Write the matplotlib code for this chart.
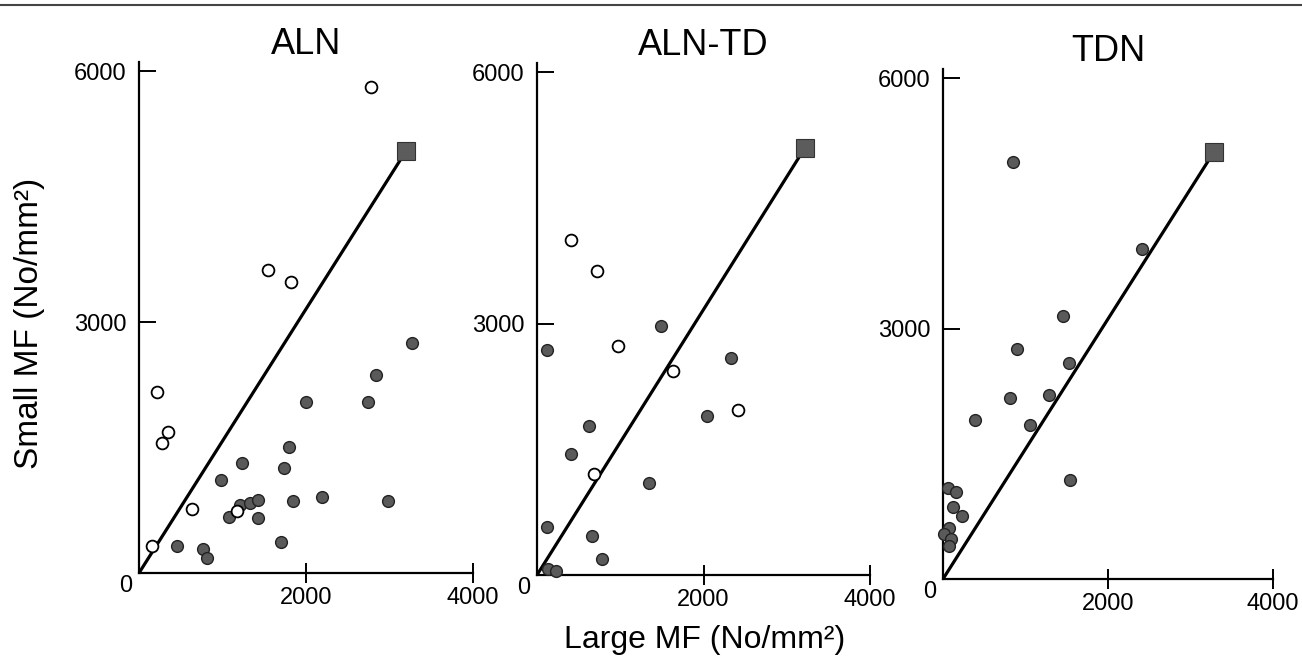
import numpy as np
import matplotlib
matplotlib.use('Agg')
from matplotlib import pyplot as plt
from matplotlib.lines import Line2D

plt.rcParams['font.family'] = ['Liberation Sans', 'DejaVu Sans']

# --- data (No/mm2)
titles = ['ALN', 'ALN-TD', 'TDN']

# ALN
aln_open_x = [2780, 1540, 1820, 210, 345, 280, 630, 1170, 150]
aln_open_y = [5810, 3620, 3480, 2160, 1680, 1560, 770, 740, 320]
aln_fill_x = [3270, 2835, 2745, 2000, 1800, 1740, 1235, 980, 1210, 1325, 1425,
              1080, 1425, 1845, 2195, 2985, 1700, 450, 770, 815]
aln_fill_y = [2750, 2370, 2040, 2040, 1510, 1250, 1310, 1110, 810, 835, 875,
              665, 655, 865, 910, 855, 375, 320, 285, 180]
aln_ref = (3200, 5050)

# ALN-TD
alntd_open_x = [410, 720, 970, 1630, 2410, 690]
alntd_open_y = [4000, 3630, 2730, 2440, 1965, 1205]
alntd_fill_x = [1490, 115, 2330, 2045, 630, 410, 1350, 115, 660, 785, 135, 225]
alntd_fill_y = [2975, 2680, 2585, 1895, 1775, 1445, 1100, 570, 460, 185, 70, 50]
alntd_ref = (3220, 5100)

# TDN
tdn_open_x = []
tdn_open_y = []
tdn_fill_x = [850, 2415, 1455, 895, 1530, 810, 1280, 390, 1055, 1540,
              55, 160, 120, 230, 70, 15, 95, 70]
tdn_fill_y = [4990, 3955, 3155, 2760, 2585, 2170, 2200, 1910, 1840, 1190,
              1085, 1045, 860, 760, 615, 540, 475, 390]
tdn_ref = (3280, 5110)

panels = [
    (aln_open_x, aln_open_y, aln_fill_x, aln_fill_y, aln_ref),
    (alntd_open_x, alntd_open_y, alntd_fill_x, alntd_fill_y, alntd_ref),
    (tdn_open_x, tdn_open_y, tdn_fill_x, tdn_fill_y, tdn_ref),
]

# axes boxes in pixels: left, bottom, width, height
W, H = 1302, 657
boxes = [(139, 84, 334, 511), (537, 82, 333, 512), (943, 78, 330, 510)]

fig = plt.figure(figsize=(W / 100, H / 100), dpi=100)

for (ox, oy, fx, fy, ref), (l, b, w, h), title in zip(panels, boxes, titles):
    ax = fig.add_axes([l / W, b / H, w / W, h / H])
    ax.set_xlim(0, 4000)
    ax.set_ylim(0, 6110)

    # reference line to the square
    ax.plot([0, ref[0]], [0, ref[1]], color='black', lw=2.3, zorder=2)
    ax.plot(ref[0], ref[1], marker='s', ms=12.5, color='#5c5c5c',
            mec='#333333', mew=0.8, zorder=4, clip_on=False)

    ax.scatter(fx, fy, s=72, c='#5a5a5a', edgecolors='#222222',
               linewidths=1.0, zorder=3, clip_on=False)
    if ox:
        ax.scatter(ox, oy, s=72, c='white', edgecolors='black',
                   linewidths=1.3, zorder=3, clip_on=False)

    for side in ['top', 'right']:
        ax.spines[side].set_visible(False)
    for side in ['left', 'bottom']:
        ax.spines[side].set_linewidth(1.6)

    ax.set_xticks([2000, 4000])
    ax.set_yticks([3000, 6000])
    ax.tick_params(axis='x', direction='inout', length=14, width=1.4,
                   labelsize=17, pad=3)
    ax.tick_params(axis='y', direction='in', length=12, width=1.4,
                   labelsize=17, pad=9)
    ax.annotate('0', xy=(0, 0), xycoords='axes fraction',
                xytext=(-9.5, -9), textcoords='offset points',
                ha='center', va='center', fontsize=17)
    ax.set_title(title, fontsize=26, pad=5)

fig.text(30 / W, 1 - 323 / H, 'Small MF (No/mm²)', rotation=90,
         ha='center', va='center', fontsize=24)
fig.text(705 / W, 1 - 640 / H, 'Large MF (No/mm²)',
         ha='center', va='center', fontsize=23)

# rule across the top
fig.add_artist(Line2D([0, 1], [1 - 5 / H, 1 - 5 / H], color='#444444', lw=1.5))

fig.savefig('out.png', dpi=100)
